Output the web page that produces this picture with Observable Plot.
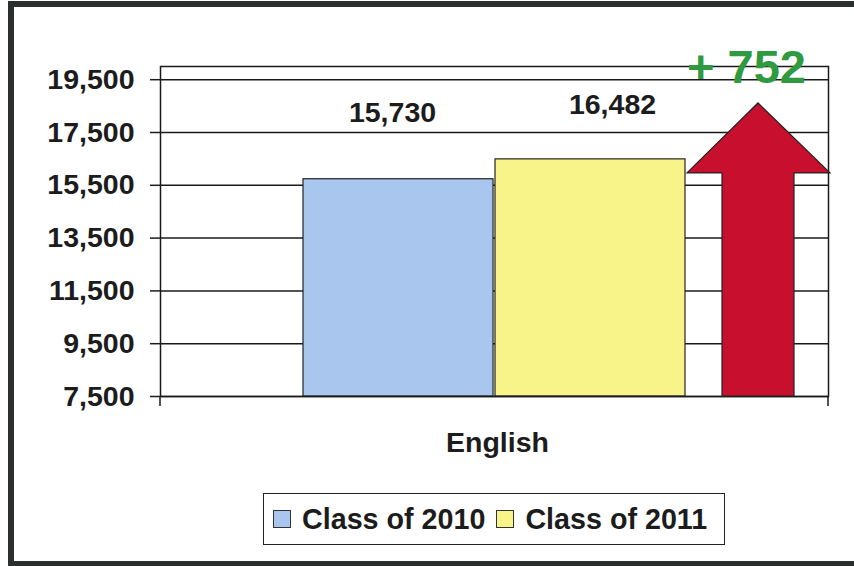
<!DOCTYPE html>
<html>
<head>
<meta charset="utf-8">
<script src="https://cdn.jsdelivr.net/npm/d3@7"></script>
<script src="https://cdn.jsdelivr.net/npm/@observablehq/plot@0.6"></script>
<style>
  html, body { margin: 0; padding: 0; background: #fff; overflow: hidden; }
  #wrap { position: relative; width: 854px; height: 566px; font-family: "Liberation Sans", Arial, sans-serif; color: #1c1c1c; }
  #chart { position: absolute; left: 0; top: 0; }
  #outer { position: absolute; left: 8px; top: 1px; width: 860px; height: 565px; box-sizing: border-box; border: 6px solid #2b2f2d; border-right: none; border-bottom-width: 5px; pointer-events: none; }
  #legend { position: absolute; left: 263px; top: 493px; width: 462px; height: 52px; box-sizing: border-box; border: 1.5px solid #222; display: flex; align-items: center; font-weight: bold; font-size: 28.7px; white-space: nowrap; }
  .sw { display: inline-block; width: 18px; height: 18px; border: 1.2px solid #333; box-sizing: border-box; }
</style>
</head>
<body>
<div id="wrap">
  <div id="chart"></div>
  <div id="legend"></div>
  <div id="outer"></div>
</div>
<script>
// ---- data ----
const subject = "English";
const series = ["Class of 2010", "Class of 2011"];
const values = [15730, 16482];
const colors = ["#a9c7ee", "#f8f48a"];
const yDomain = [7500, 20000];
const yTicks = [7500, 9500, 11500, 13500, 15500, 17500, 19500];
const arrowTip = 18600;
const arrowHeadBase = 15950;
const diff = values[1] - values[0];

const data = series.map((s, i) => ({series: s, value: values[i]}));
const fmt = d3.format(",");

const arrowMark = (index, scales, vals, dims) => {
  const y = scales.y;
  const right = dims.width - dims.marginRight;
  const left = dims.marginLeft;
  const cx = right - 70;
  const yb = y(yDomain[0]), yh = y(arrowHeadBase), yt = y(arrowTip);
  const pts = [[cx - 36, yb], [cx - 36, yh], [cx - 71, yh], [cx, yt], [cx + 72, yh], [cx + 36, yh], [cx + 36, yb]];
  const g = d3.create("svg:g");
  g.append("path")
    .attr("d", "M" + pts.map(p => p.join(",")).join("L") + "Z")
    .attr("fill", "#c8102e").attr("stroke", "#222").attr("stroke-width", 1.2);
  g.append("line").attr("x1", left).attr("x2", left).attr("y1", yb).attr("y2", yb + 10).attr("stroke", "#1a1a1a").attr("stroke-width", 1.5);
  g.append("line").attr("x1", right).attr("x2", right).attr("y1", yb).attr("y2", yb + 10).attr("stroke", "#1a1a1a").attr("stroke-width", 1.5);
  return g.node();
};

const plot = Plot.plot({
  width: 854,
  height: 470,
  marginLeft: 160,
  marginRight: 26,
  marginTop: 66,
  marginBottom: 74,
  style: {background: "none", fontFamily: "'Liberation Sans', Arial, sans-serif", color: "#1c1c1c"},
  x: {type: "band", domain: series, paddingInner: 0.01, paddingOuter: 0.743, axis: null},
  y: {domain: yDomain, ticks: yTicks, label: null},
  color: {domain: series, range: colors},
  marks: [
    Plot.ruleY(yTicks, {stroke: "#1a1a1a", strokeWidth: 1.5}),
    Plot.axisY(yTicks, {tickSize: 10, tickPadding: 16, fontSize: 28.5, fontWeight: "bold", tickFormat: fmt, strokeWidth: 1.5, label: null}),
    Plot.barY(data, {x: "series", y1: yDomain[0], y2: "value", fill: "series", stroke: "#222", strokeWidth: 1.2}),
    Plot.frame({stroke: "#1a1a1a", strokeWidth: 1.5}),
    arrowMark,
    Plot.text(data.filter(d => d.series === series[0]), {x: "series", y: "value", text: d => fmt(d.value), dy: -66, dx: -6, fontSize: 28.5, fontWeight: "bold", fill: "#1c1c1c"}),
    Plot.text(data.filter(d => d.series === series[1]), {x: "series", y: "value", text: d => fmt(d.value), dy: -55, dx: 22, fontSize: 28.5, fontWeight: "bold", fill: "#1c1c1c"}),
    Plot.text([subject], {frameAnchor: "bottom", lineAnchor: "middle", dy: 46, dx: 3, fontSize: 28.5, fontWeight: "bold", fill: "#1c1c1c"}),
    Plot.text([`+ ${diff}`], {frameAnchor: "top-right", lineAnchor: "middle", dx: -82, dy: 1.5, fontSize: 47, fontWeight: "bold", fill: "#2f9a40", textAnchor: "middle", style: "letter-spacing:2.5px"})
  ]
});
document.getElementById("chart").appendChild(plot);

// legend
const legend = d3.select("#legend");
series.forEach((s, i) => {
  legend.append("span").attr("class", "sw")
    .style("background", colors[i])
    .style("margin-left", i === 0 ? "9px" : "11px");
  legend.append("span").text(s).style("margin-left", "11px");
});
</script>
</body>
</html>
